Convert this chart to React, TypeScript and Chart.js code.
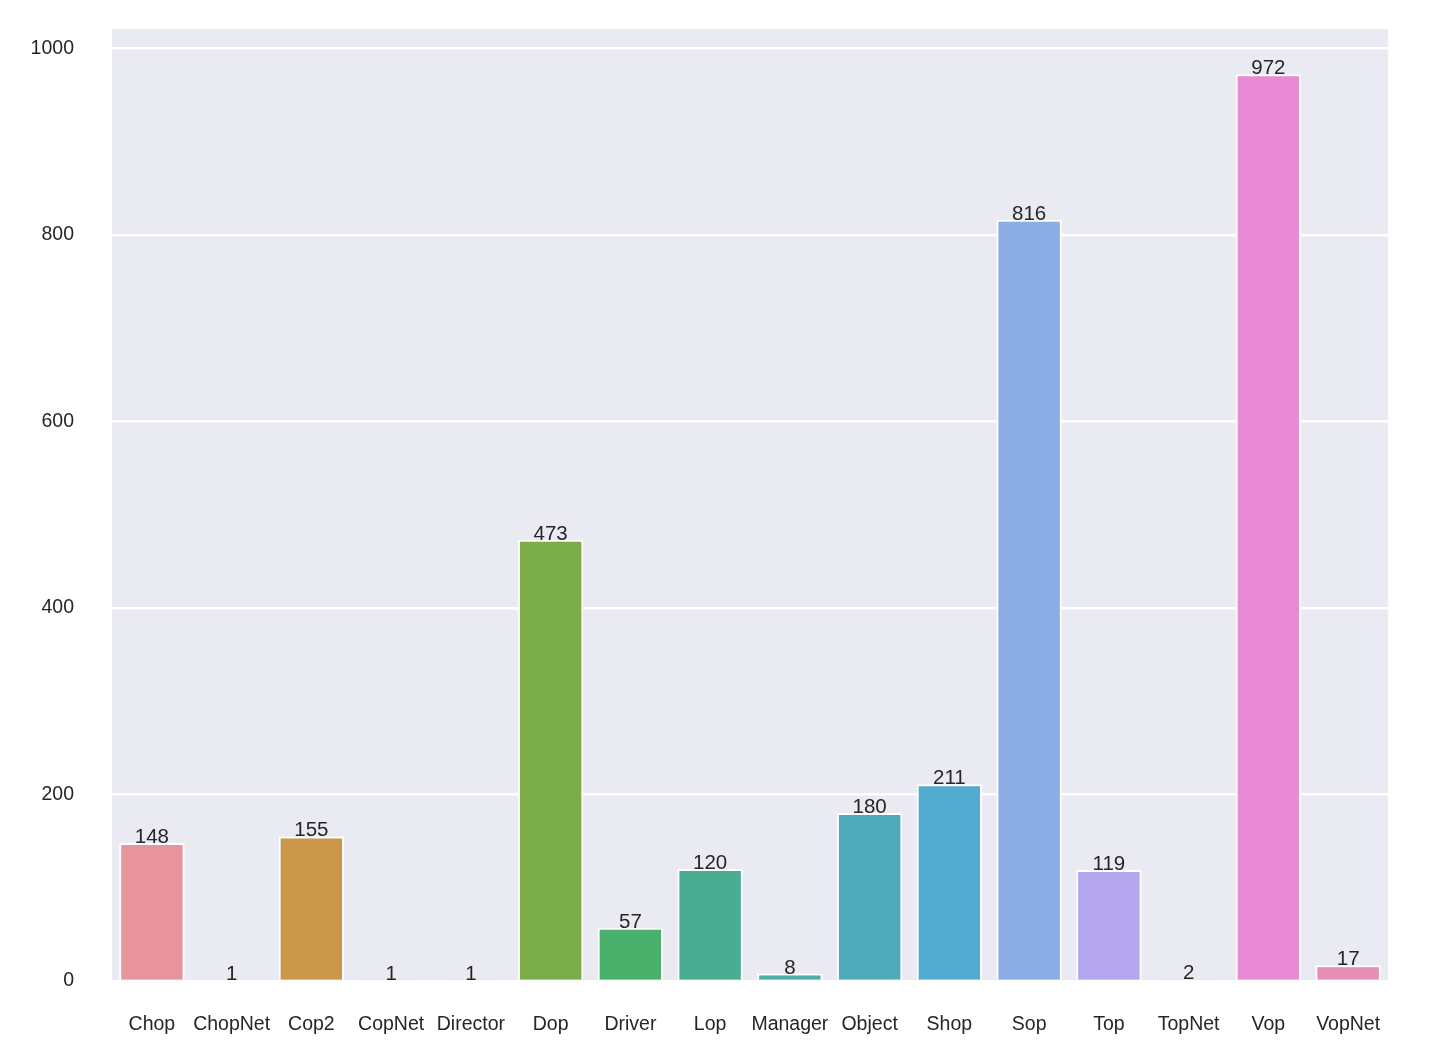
import React, { useEffect, useRef } from "react";
import { Chart, registerables } from "chart.js";

Chart.register(...registerables);

const categories = ["Chop", "ChopNet", "Cop2", "CopNet", "Director", "Dop", "Driver", "Lop", "Manager", "Object", "Shop", "Sop", "Top", "TopNet", "Vop", "VopNet"];
const counts = [148, 1, 155, 1, 1, 473, 57, 120, 8, 180, 211, 816, 119, 2, 972, 17];
const barColors = ["#E8949E", "#DE9877", "#CB9849", "#B0A146", "#97A746", "#7AAD47", "#4AB16D", "#49AE91", "#4AAEA4", "#4DABB9", "#53ABD0", "#8AADE6", "#B3A6EC", "#D199E8", "#E98AD4", "#E88DB5"];
const yTicks = [0, 200, 400, 600, 800, 1000];

const FONT = "'Liberation Sans', Arial, Helvetica, sans-serif";
const TEXT = "#262626";

const bgPlugin = {
  id: "bgPlugin",
  beforeDraw(chart: any) {
    const { ctx, chartArea } = chart;
    ctx.save();
    ctx.fillStyle = "#EAEAF2";
    ctx.fillRect(chartArea.left, chartArea.top, chartArea.right - chartArea.left, chartArea.bottom - chartArea.top);
    ctx.restore();
  },
};

const labelPlugin = {
  id: "labelPlugin",
  afterDatasetsDraw(chart: any) {
    const { ctx } = chart;
    const meta = chart.getDatasetMeta(0);
    ctx.save();
    ctx.font = `20.5px ${FONT}`;
    ctx.fillStyle = TEXT;
    ctx.textAlign = "center";
    ctx.textBaseline = "alphabetic";
    meta.data.forEach((bar: any, i: number) => {
      ctx.fillText(String(counts[i]), bar.x, bar.y);
    });
    ctx.restore();
  },
};

export default function App() {
  const ref = useRef<HTMLCanvasElement | null>(null);
  useEffect(() => {
    if (!ref.current) return;
    const chart = new Chart(ref.current, {
      type: "bar",
      data: {
        labels: categories,
        datasets: [
          {
            data: counts,
            backgroundColor: barColors,
            borderColor: "#FFFFFF",
            borderWidth: 2,
            categoryPercentage: 0.82,
            barPercentage: 1,
          },
        ],
      },
      options: {
        animation: false,
        responsive: false,
        maintainAspectRatio: false,
        layout: { padding: { top: 29, right: 52, left: 0, bottom: 0 } },
        plugins: { legend: { display: false }, tooltip: { enabled: false } },
        scales: {
          x: {
            grid: { display: false, drawTicks: false },
            border: { display: false },
            ticks: { color: TEXT, font: { family: FONT, size: 19.5 }, padding: 32, maxRotation: 0, autoSkip: false },
            afterFit: (s: any) => { s.height = 74; s.paddingLeft = 0; s.paddingRight = 0; },
          },
          y: {
            min: 0,
            max: 1020.6,
            grid: { color: "#FFFFFF", lineWidth: 2.5, drawTicks: false },
            border: { display: false },
            afterBuildTicks: (s: any) => { s.ticks = yTicks.map((v) => ({ value: v })); },
            ticks: { color: TEXT, font: { family: FONT, size: 19.5 }, padding: 38, includeBounds: false, callback: (v: any) => String(v) },
            afterFit: (s: any) => { s.width = 112; s.paddingTop = 0; s.paddingBottom = 0; },
          },
        },
      },
      plugins: [bgPlugin, labelPlugin],
    });
    return () => chart.destroy();
  }, []);
  return (
    <div style={{ position: "fixed", left: 0, top: 0, width: 1440, height: 1055, background: "#fff" }}>
      <canvas ref={ref} width={1440} height={1055} style={{ width: 1440, height: 1055 }} />
    </div>
  );
}
